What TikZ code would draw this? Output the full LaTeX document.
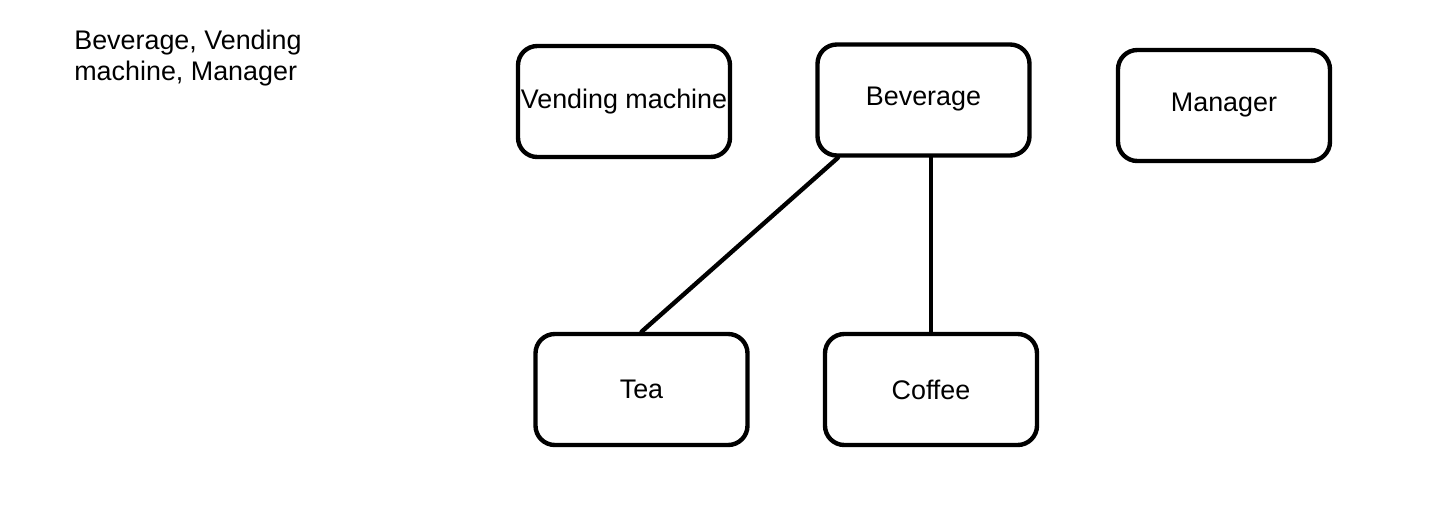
\documentclass[tikz,border=0pt]{standalone}
\usepackage{fontspec}
\setmainfont{Liberation Sans}
\usetikzlibrary{positioning}

\tikzset{
  classbox/.style={draw, line width=2.5pt, rounded corners=11pt,
    minimum width=4.24cm, minimum height=2.22cm, inner sep=0pt,
    font=\fontsize{15.3pt}{18pt}\selectfont},
  assoc/.style={line width=2.5pt, line cap=round}
}

\begin{document}
\begin{tikzpicture}[x=0.2mm, y=-0.2mm, line join=round]

    \useasboundingbox (0,0) rectangle (1430,530);

    % list of classes
    \node [anchor=north west, align=left, inner sep=0pt,
           font=\fontsize{15.3pt}{17.6pt}\selectfont] (list) at (74,30)
           {Beverage, Vending\\machine, Manager};

    % top row
    \node [classbox] (vend) at (624,101.5) {Vending machine};
    \node [classbox] (bev) at (923.5,100) {\raisebox{4pt}{Beverage}};
    \node [classbox] (mgr) at (1224,105.5) {Manager};
    % bottom row
    \node [classbox] (tea) at (641.5,389.5) {Tea};
    \node [classbox] (coffee) at (931,389.5) {Coffee};

    % links
    \draw [assoc] (bev.214) -- (tea.north);
    \draw [assoc] (bev.south -| coffee.north) -- (coffee.north);

\end{tikzpicture}
\end{document}
